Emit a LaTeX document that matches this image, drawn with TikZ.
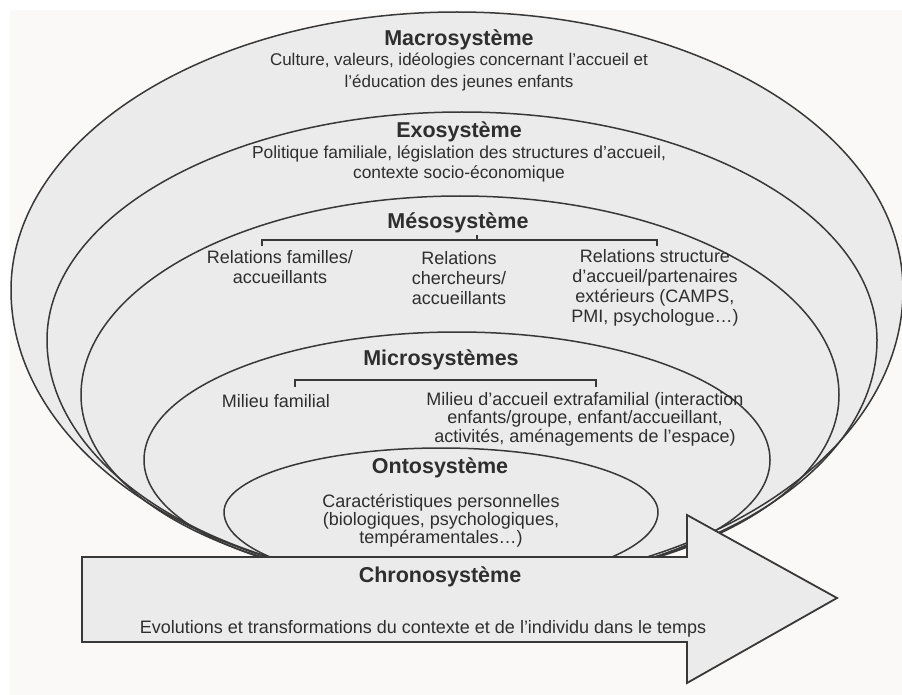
\documentclass[tikz,border=0pt]{standalone}
\usepackage{fontspec}
\setmainfont{Liberation Sans}
\usetikzlibrary{positioning}

\begin{document}
\begin{tikzpicture}[x=1pt, y=-1pt]
    \definecolor{page}{HTML}{FBF9F8}
\colorlet{layer}{black!8}
\colorlet{rim}{black!78}
\colorlet{label}{black!82}

\tikzset{
    ring fill/.style={fill=layer},
    ring/.style={draw=rim, line width=1.5},
    head/.style={
        font=\fontsize{21.5}{24}\selectfont\bfseries,
        text=label, inner sep=0pt,
    },
    txt/.style={
        font=\fontsize{18}{20}\selectfont,
        text=label, align=center, inner sep=0pt,
    },
    bracket/.style={draw=rim, line width=1.2},
    time arrow/.style={
        fill=layer, draw=rim, line width=1.8,
        line join=miter,
    },
}

    \useasboundingbox (0,0) rectangle (902,695);
    \fill[white] (0,0) rectangle (902,695);
    \fill[page] (10,10) rectangle (902,695);

    % nested systems: centre x / half width / centre y / upper / lower radius
    \foreach \cx/\a/\cy/\bt/\bb in {457/446/290/278/295, 462/415/340/228/245,
            460/379/395/199/190, 457/313/460/128/125, 441/217/512/64/73}
        \fill[ring fill] (\cx+\a,\cy)
            arc[start angle=0, end angle=180, x radius=\a, y radius=\bb]
            arc[start angle=180, end angle=360, x radius=\a, y radius=\bt]
            -- cycle;
    \foreach \cx/\a/\cy/\bt/\bb in {457/446/290/278/295, 462/415/340/228/245,
            460/379/395/199/190, 457/313/460/128/125, 441/217/512/64/73}
        \draw[ring] (\cx+\a,\cy)
            arc[start angle=0, end angle=180, x radius=\a, y radius=\bb]
            arc[start angle=180, end angle=360, x radius=\a, y radius=\bt]
            -- cycle;

    \node[head] (macro) at (459,40) {Macrosystème};
    \node[txt, font=\fontsize{17}{22}\selectfont] (macro-text) at (459,72)
        {Culture, valeurs, idéologies concernant l'accueil et\\l'éducation des jeunes enfants};

    \node[head] (exo) at (459,132) {Exosystème};
    \node[txt, font=\fontsize{17.4}{20}\selectfont] (exo-text) at (459,164)
        {Politique familiale, législation des structures d'accueil,\\contexte socio-économique};

    \node[head] (meso) at (458,223) {Mésosystème};
    \coordinate (meso-l) at (262,246);
    \coordinate (meso-r) at (657,246);
    \coordinate (meso-top) at (477,235);
    \draw[bracket] (meso-l) -- ++(0,-6) -| (meso-r);
    \draw[bracket] (meso-top) -- ++(0,5);

    \node[txt] (meso-a) at (280,267) {Relations familles/\\accueillants};
    \node[txt] (meso-b) at (459,278) {Relations\\chercheurs/\\accueillants};
    \node[txt] (meso-c) at (655,288)
        {Relations structure\\d'accueil/partenaires\\extérieurs (CAMPS,\\PMI, psychologue…)};

    \node[head] (micro) at (441,360) {Microsystèmes};
    \coordinate (micro-l) at (295,387);
    \coordinate (micro-r) at (596,387);
    \draw[bracket] (micro-l) -- ++(0,-7) -| (micro-r);

    \node[txt] (micro-a) at (276,401) {Milieu familial};
    \node[txt, font=\fontsize{18}{18.5}\selectfont] (micro-b) at (585,419)
        {Milieu d'accueil extrafamilial (interaction\\enfants/groupe, enfant/accueillant,\\activités, aménagements de l'espace)};

    \node[head] (onto) at (440,468) {Ontosystème};
    \node[txt, font=\fontsize{18}{18}\selectfont] (onto-text) at (441,521)
        {Caractéristiques personnelles\\(biologiques, psychologiques,\\tempéramentales…)};

    % time runs left to right under the rings
    \draw[time arrow] (82,557) -- (687,557) -- (687,515) -- (837,598)
        -- (687,683) -- (687,642) -- (82,642) -- cycle;

    \node[head] (chrono) at (440,577) {Chronosystème};
    \node[txt] (chrono-text) at (423,629)
        {Evolutions et transformations du contexte et de l'individu dans le temps};
\end{tikzpicture}
\end{document}
